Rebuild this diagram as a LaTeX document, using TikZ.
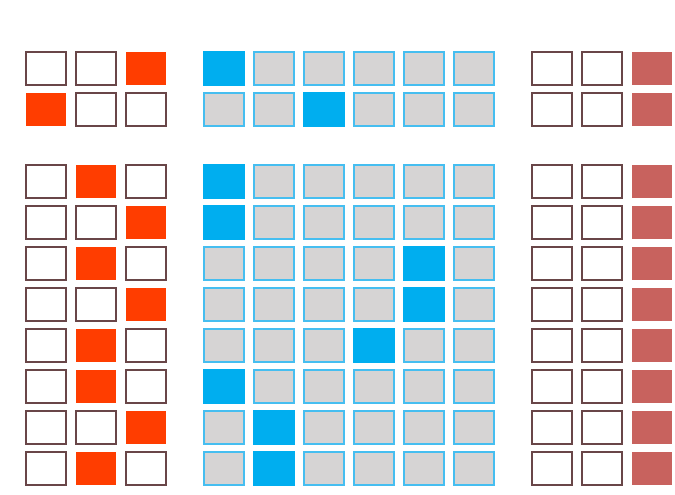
\documentclass[tikz,border=0pt]{standalone}
\usepackage{xcolor}
\definecolor{pickred}{RGB}{255,61,0}
\definecolor{pickblue}{RGB}{0,174,239}
\definecolor{cellgray}{RGB}{214,212,212}
\definecolor{cellline}{RGB}{70,190,240}
\definecolor{boxline}{RGB}{105,70,72}
\definecolor{rosefill}{RGB}{200,98,94}
\usetikzlibrary{positioning}

\begin{document}
\begin{tikzpicture}[x=0.02cm, y=-0.02cm,
  cell/.style={rectangle, minimum width=0.8cm, minimum height=0.66cm, inner sep=0pt},
  obox/.style={cell, draw=boxline, line width=0.6pt},
  rbox/.style={cell, fill=pickred},
  gbox/.style={cell, fill=cellgray, draw=cellline, line width=0.6pt},
  bbox/.style={cell, fill=pickblue, draw=pickblue, line width=0.6pt},
  kbox/.style={cell, fill=rosefill}
]
\useasboundingbox (0,0) rectangle (675,494);

% Rows: y centre / red column / blue column
\foreach \y/\a/\b [count=\r] in {68.5/3/1, 109.5/1/3, 181.5/2/1, 222.5/3/1, 263.5/2/5,
                                 304.5/3/5, 345.5/2/4, 386.5/2/1, 427.5/3/2, 468.5/2/2} {
  % Left group
  \foreach \c in {1,2,3} {
    \ifnum\c=\a \def\st{rbox}\else\def\st{obox}\fi
    \node[\st] (left-\r-\c) at ({-4+50*\c}, \y) {};
  }
  % Middle group
  \foreach \c in {1,...,6} {
    \ifnum\c=\b \def\st{bbox}\else\def\st{gbox}\fi
    \node[\st] (mid-\r-\c) at ({174+50*\c}, \y) {};
  }
  % Right group
  \node[obox] (right-\r-1) at (552, \y) {};
  \node[obox] (right-\r-2) at (602, \y) {};
  \node[kbox] (right-\r-3) at (652, \y) {};
}
\end{tikzpicture}
\end{document}
